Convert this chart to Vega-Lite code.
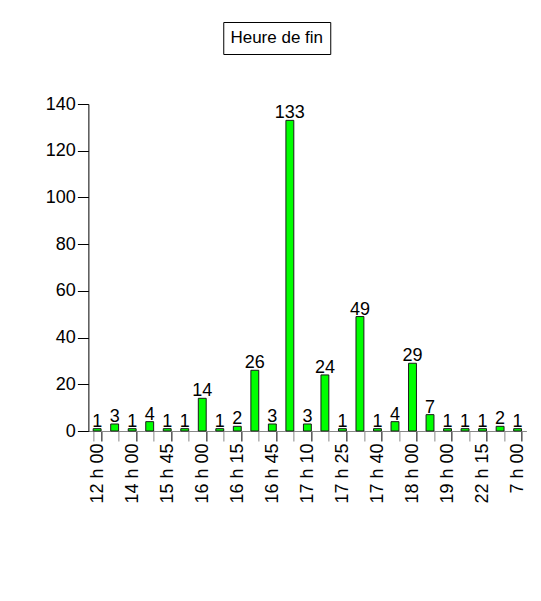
{
  "$schema": "https://vega.github.io/schema/vega-lite/v6.json",
  "padding": {"left": 45, "top": 21, "right": 0, "bottom": 0},
  "background": "white",
  "config": {"font": "Liberation Sans", "view": {"stroke": null}},
  "data": {"values": [
    {"heure": "12 h 00", "n": 1},
    {"heure": "13 h 00", "n": 3},
    {"heure": "14 h 00", "n": 1},
    {"heure": "15 h 00", "n": 4},
    {"heure": "15 h 45", "n": 1},
    {"heure": "15 h 50", "n": 1},
    {"heure": "16 h 00", "n": 14},
    {"heure": "16 h 10", "n": 1},
    {"heure": "16 h 15", "n": 2},
    {"heure": "16 h 30", "n": 26},
    {"heure": "16 h 45", "n": 3},
    {"heure": "17 h 00", "n": 133},
    {"heure": "17 h 10", "n": 3},
    {"heure": "17 h 15", "n": 24},
    {"heure": "17 h 25", "n": 1},
    {"heure": "17 h 30", "n": 49},
    {"heure": "17 h 40", "n": 1},
    {"heure": "17 h 45", "n": 4},
    {"heure": "18 h 00", "n": 29},
    {"heure": "18 h 30", "n": 7},
    {"heure": "19 h 00", "n": 1},
    {"heure": "20 h 00", "n": 1},
    {"heure": "22 h 15", "n": 1},
    {"heure": "22 h 30", "n": 2},
    {"heure": "7 h 00", "n": 1}
  ]},
  "spacing": 40,
  "center": true,
  "vconcat": [
    {
      "hconcat": [
        {
          "width": 107,
          "height": 32,
          "view": {"stroke": "black", "strokeWidth": 1},
          "data": {"values": [{"t": "Heure de fin"}]},
          "mark": {"type": "text", "fontSize": 17, "color": "black", "baseline": "middle", "align": "center"},
          "encoding": {
            "y": {"field": "t", "type": "nominal", "axis": {"orient": "right", "labels": false, "ticks": false, "domain": false, "title": null, "minExtent": 61, "maxExtent": 61}},
            "text": {"field": "t", "type": "nominal"}
          }
        }
      ]
    },
    {
      "width": 438,
      "height": 327,
      "encoding": {
        "x": {
          "field": "heure", "type": "nominal", "sort": null,
          "scale": {"paddingInner": 0.55, "paddingOuter": 0.275},
          "axis": {
            "title": null,
            "labelAngle": -90,
            "labelAlign": "right",
            "labelBaseline": "middle",
            "labelFontSize": 18,
            "labelColor": "black",
            "labelPadding": 2,
            "labelOverlap": false,
            "labelExpr": "indexof(['12 h 00','14 h 00','15 h 45','16 h 00','16 h 15','16 h 45','17 h 10','17 h 25','17 h 40','18 h 00','19 h 00','22 h 15','7 h 00'], datum.value) >= 0 ? datum.label : ''",
            "tickBand": "extent",
            "tickSize": 10,
            "tickColor": {"condition": {"test": "indexof(['12 h 00','14 h 00','15 h 45','16 h 00','16 h 15','16 h 45','17 h 10','17 h 25','17 h 40','18 h 00','19 h 00','22 h 15','7 h 00'], datum.value) >= 0", "value": "black"}, "value": "#888888"},
            "domainColor": "#888888"
          }
        },
        "y": {
          "field": "n", "type": "quantitative",
          "scale": {"domain": [0, 140], "nice": false},
          "axis": {
            "title": null,
            "values": [0, 20, 40, 60, 80, 100, 120, 140],
            "grid": false,
            "tickSize": 11,
            "tickColor": "black",
            "domainColor": "black",
            "labelFontSize": 18,
            "labelColor": "black",
            "labelPadding": 2,
            "minExtent": 43,
            "maxExtent": 43
          }
        }
      },
      "layer": [
        {"mark": {"type": "bar", "fill": "#00ff00", "stroke": "#1a1a1a", "strokeWidth": 1}},
        {"mark": {"type": "text", "fontSize": 18, "color": "black", "baseline": "alphabetic", "dy": -2}, "encoding": {"text": {"field": "n", "type": "quantitative"}}}
      ]
    }
  ]
}
